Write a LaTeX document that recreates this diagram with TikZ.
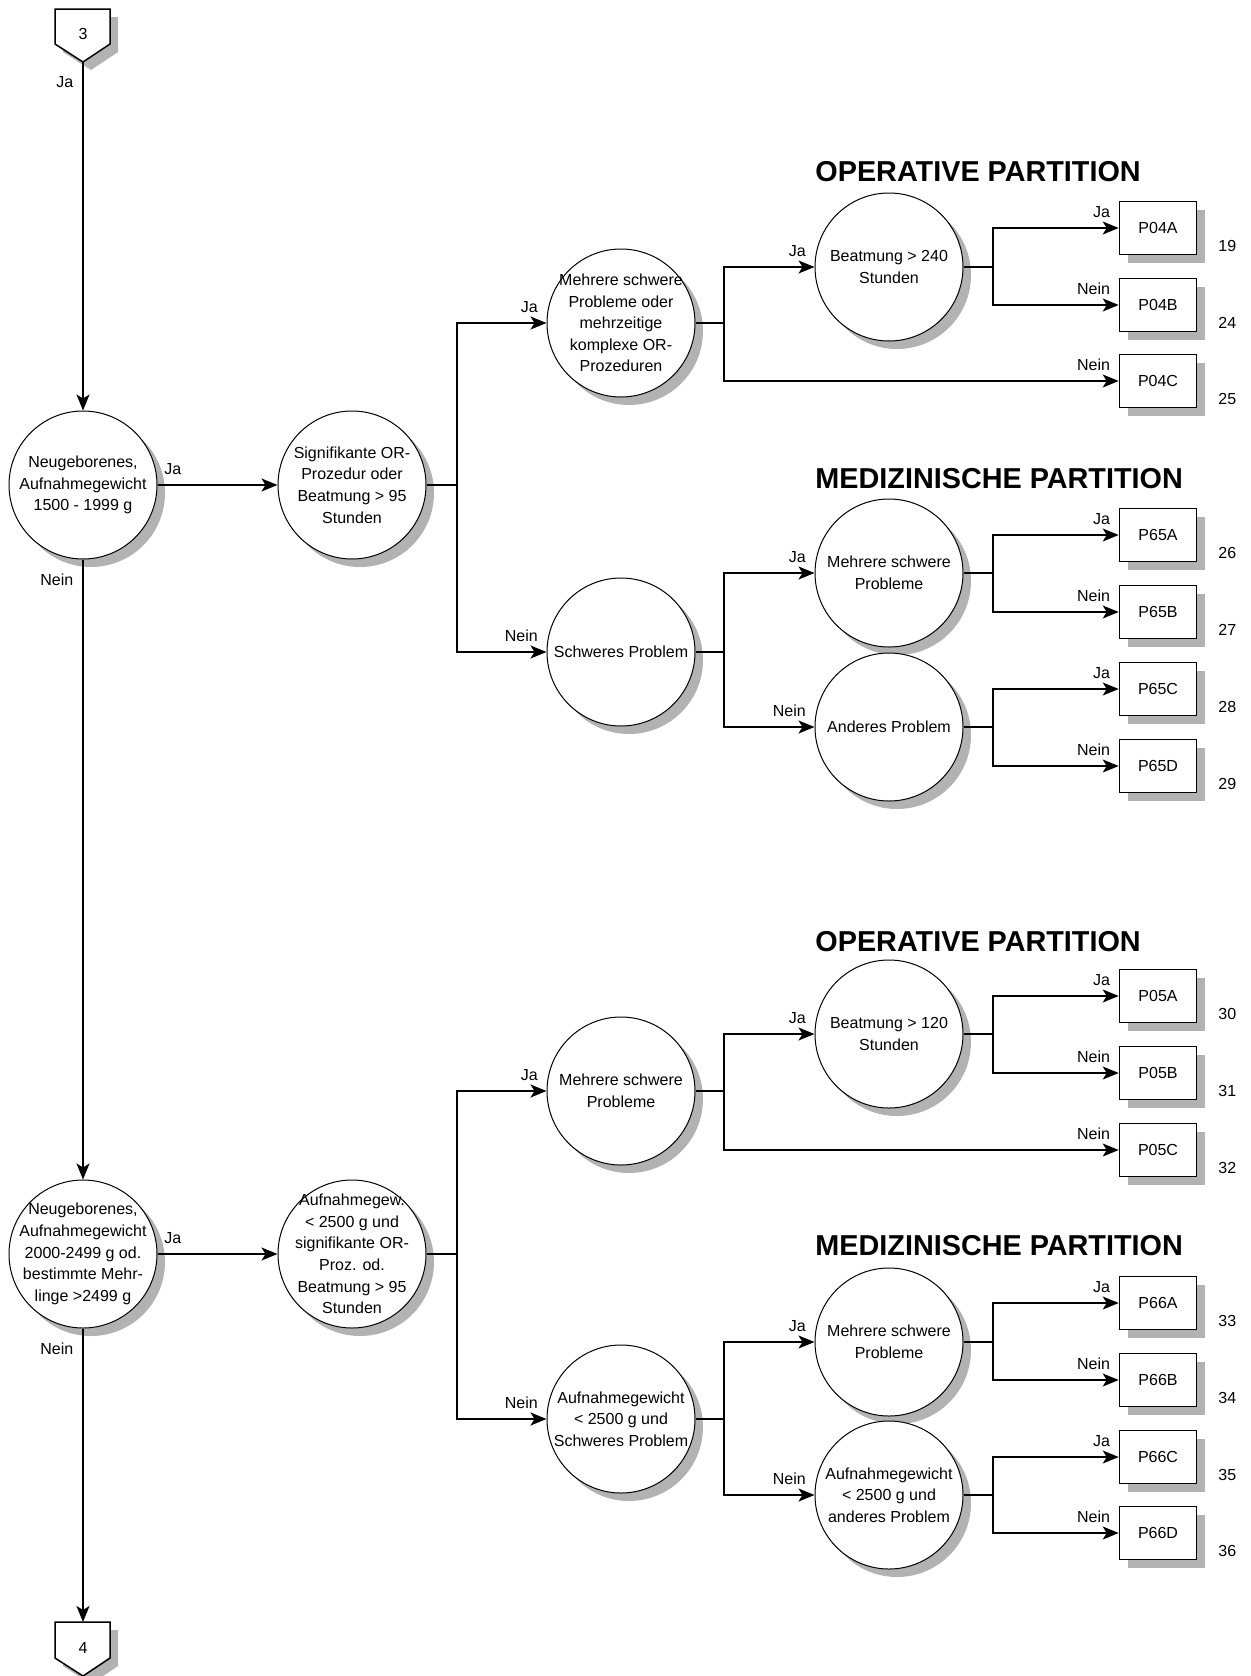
\documentclass[tikz,border=0pt]{standalone}
\usepackage{fontspec}
\setmainfont{Liberation Sans}
\usetikzlibrary{arrows.meta,shadows}

\begin{document}
\begin{tikzpicture}[x=0.5pt,y=-0.5pt,
        schatten/.style={drop shadow={shadow xshift=4pt,shadow yshift=-4pt,opacity=1,fill=black!30}},
        frage/.style={circle,draw,line width=0.5pt,fill=white,minimum size=74pt,inner sep=-12pt,
            align=center,font=\fontsize{8}{10.8}\selectfont,schatten},
        drg/.style={rectangle,draw,line width=0.8pt,fill=white,minimum width=38.5pt,
            minimum height=26.5pt,inner sep=0pt,font=\fontsize{8}{10}\selectfont,schatten},
        linie/.style={line width=0.75pt},
        pfeil/.style={linie,-{Stealth[length=8pt,width=6.5pt,inset=2pt]}},
        antwbasis/.style={font=\fontsize{8}{10}\selectfont,inner sep=1pt},
        antw/.style={antwbasis,anchor=south east,xshift=-3pt,yshift=4pt},
        antwr/.style={antwbasis,anchor=south west,xshift=2pt,yshift=4pt},
        antwu/.style={antwbasis,anchor=north east,xshift=-3.5pt,yshift=-6pt},
        nummer/.style={font=\fontsize{8}{10}\selectfont,inner sep=0pt},
        titel/.style={font=\bfseries\fontsize{14.4}{16}\selectfont,anchor=west,inner sep=0pt}]
        \useasboundingbox (0,0) rectangle (1250,1676);

        % Konnektoren
        \draw[line width=0.75pt,fill=white,schatten] (55,9) -- (110,9) -- (110,44) -- (83,62) -- (55,44) -- cycle;
        \node[nummer] (k3) at (83,34) {3};
        \coordinate (k3tip) at (83,62);
        \draw[line width=0.75pt,fill=white,schatten] (55,1622) -- (110,1622) -- (110,1658) -- (83,1676) -- (55,1658) -- cycle;
        \node[nummer] (k4) at (83,1648) {4};
        \coordinate (k4top) at (83,1622);

        % Titel
        \node[titel] (op1) at (815,172) {OPERATIVE PARTITION};
        \node[titel] (med1) at (815,479) {MEDIZINISCHE PARTITION};
        \node[titel] (op2) at (815,942) {OPERATIVE PARTITION};
        \node[titel] (med2) at (815,1246) {MEDIZINISCHE PARTITION};

        % Kreise
        \node[frage] (c1) at (83,485) {Neugeborenes,\\Aufnahmegewicht\\1500 - 1999 g};
        \node[frage] (c2) at (352,485) {Signifikante OR-\\Prozedur oder\\Beatmung > 95\\Stunden};
        \node[frage] (c3) at (621,323) {Mehrere schwere\\Probleme oder\\mehrzeitige\\komplexe OR-\\Prozeduren};
        \node[frage] (c4) at (621,652) {Schweres Problem};
        \node[frage] (c5) at (889,267) {Beatmung > 240\\Stunden};
        \node[frage] (c6) at (889,573) {Mehrere schwere\\Probleme};
        \node[frage] (c7) at (889,727) {Anderes Problem};

        \node[frage] (c8) at (83,1254) {Neugeborenes,\\Aufnahmegewicht\\2000-2499 g od.\\bestimmte Mehr-\\linge >2499 g};
        \node[frage] (c9) at (352,1254) {Aufnahmegew.\\< 2500 g und\\signifikante OR-\\Proz. od.\\Beatmung > 95\\Stunden};
        \node[frage] (c10) at (621,1091) {Mehrere schwere\\Probleme};
        \node[frage] (c11) at (889,1034) {Beatmung > 120\\Stunden};
        \node[frage] (c12) at (621,1419) {Aufnahmegewicht\\< 2500 g und\\Schweres Problem};
        \node[frage] (c13) at (889,1342) {Mehrere schwere\\Probleme};
        \node[frage] (c14) at (889,1495) {Aufnahmegewicht\\< 2500 g und\\anderes Problem};

        % Verzweigungen
        \coordinate (j1) at (457,485);
        \coordinate (j2) at (724,323);
        \coordinate (j3) at (993,267);
        \coordinate (j4) at (724,652);
        \coordinate (j5) at (993,573);
        \coordinate (j6) at (993,727);
        \coordinate (j7) at (457,1254);
        \coordinate (j8) at (724,1091);
        \coordinate (j9) at (993,1034);
        \coordinate (j10) at (724,1419);
        \coordinate (j11) at (993,1342);
        \coordinate (j12) at (993,1495);

        % Fallpauschalen
        \foreach \n/\y/\z in {P04A/228/19, P04B/305/24, P04C/381/25,
                P65A/535/26, P65B/612/27, P65C/689/28, P65D/766/29,
                P05A/996/30, P05B/1073/31, P05C/1150/32,
                P66A/1303/33, P66B/1380/34, P66C/1457/35, P66D/1533/36} {
            \node[drg] (\n) at (1158,\y) {\n};
            \node[nummer] (n\n) at ([xshift=15pt,yshift=-9pt]\n.east) {\z};
        }

        % Hauptlinie
        \draw[pfeil] (k3tip) -- (c1) node[antwu,pos=0] {Ja};
        \draw[pfeil] (c1) -- (c8) node[antwu,pos=0] {Nein};
        \draw[pfeil] (c8) -- (k4top) node[antwu,pos=0] {Nein};
        \draw[pfeil] (c1) -- (c2) node[antwr,pos=0] {Ja};
        \draw[pfeil] (c8) -- (c9) node[antwr,pos=0] {Ja};

        % Linien
        \foreach \von/\nach in {c2/j1, c3/j2, c5/j3, c4/j4, c6/j5, c7/j6,
                c9/j7, c10/j8, c11/j9, c12/j10, c13/j11, c14/j12}
            \draw[linie] (\von) -- (\nach);

        % Pfeile
        \foreach \von/\nach/\txt in {j1/c3/Ja, j1/c4/Nein, j2/c5/Ja, j4/c6/Ja, j4/c7/Nein,
                j7/c10/Ja, j7/c12/Nein, j8/c11/Ja, j10/c13/Ja, j10/c14/Nein,
                j3/P04A/Ja, j3/P04B/Nein, j2/P04C/Nein,
                j5/P65A/Ja, j5/P65B/Nein, j6/P65C/Ja, j6/P65D/Nein,
                j9/P05A/Ja, j9/P05B/Nein, j8/P05C/Nein,
                j11/P66A/Ja, j11/P66B/Nein, j12/P66C/Ja, j12/P66D/Nein}
            \draw[pfeil] (\von) |- (\nach) node[antw,pos=1] {\txt};
    \end{tikzpicture}
\end{document}
